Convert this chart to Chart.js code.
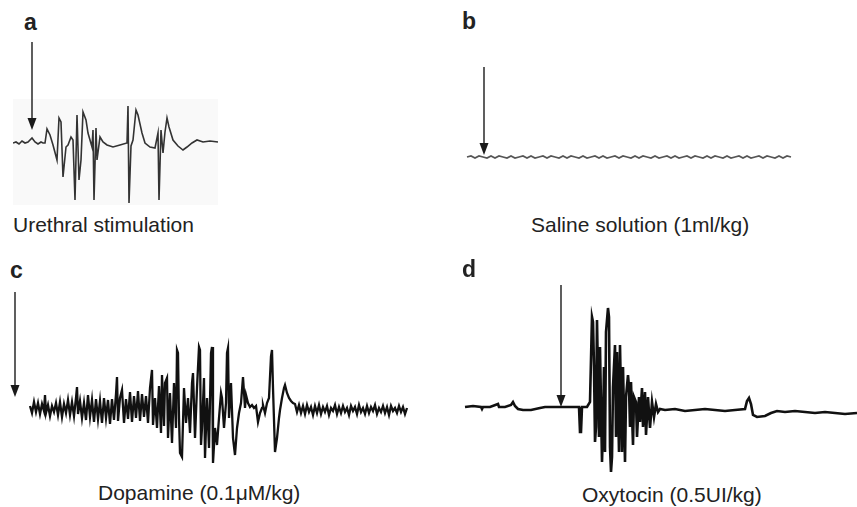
<!DOCTYPE html>
<html>
<head>
<meta charset="utf-8">
<script src="https://cdn.jsdelivr.net/npm/chart.js@4/dist/chart.umd.min.js"></script>
<style>
  html, body { margin:0; padding:0; background:#fff; }
  body { width:857px; height:507px; position:relative; overflow:hidden; font-family:"Liberation Sans", Arial, Helvetica, sans-serif; color:#222; }
  .lbl { position:absolute; font-weight:bold; font-size:23px; line-height:23px; white-space:nowrap; }
  .cap { position:absolute; font-size:21px; line-height:21px; white-space:nowrap; color:#222; }
  canvas { position:absolute; }
  #boxA { position:absolute; left:13px; top:99px; width:205px; height:106px; background:#f9f9f9; }
</style>
</head>
<body>
<div id="boxA"></div>
<canvas id="cA" width="206" height="166" style="left:13px;top:40px"></canvas>
<canvas id="cB" width="340" height="110" style="left:460px;top:60px"></canvas>
<canvas id="cC" width="400" height="185" style="left:10px;top:285px"></canvas>
<canvas id="cD" width="402" height="200" style="left:455px;top:280px"></canvas>

<div class="lbl" style="left:24px;top:11px">a</div>
<div class="lbl" style="left:462px;top:10px">b</div>
<div class="lbl" style="left:10px;top:259px">c</div>
<div class="lbl" style="left:462px;top:258px">d</div>

<div class="cap" style="left:13px;top:214px">Urethral stimulation</div>
<div class="cap" style="left:531px;top:214px">Saline solution (1ml/kg)</div>
<div class="cap" style="left:98px;top:482px">Dopamine (0.1μM/kg)</div>
<div class="cap" style="left:582px;top:484px">Oxytocin (0.5UI/kg)</div>

<script>
// ---- Panel a: urethral stimulation (time, amplitude) ----
const aTime   = [0,3,6,9,12,15,19,22,25,28,30,32,34,37,40,44,46,48,50,53,55,58,60,62,64,66,68,70,73,75,79,80,81,83,84,87,90,94,100,107,114,115,116,118,120,123,125,129,132,137,142,145,146,148,150,152,154,156,160,165,170,174,179,184,190,197,205];
const aSignal = [0,1,-1,2,0,1,5,1,-1,1,0,0,14,8,-2,-17,25,21,-34,-4,-2,6,3,-57,28,-37,-17,31,23,10,-4,13,-57,15,-17,6,1,-2,-4,-2,0,37,-60,-3,3,33,28,10,0,-4,-5,10,-57,13,-10,11,25,16,3,-3,-7,-4,0,3,1,2,1];
const aStim   = {t:19, from:101, to:13};

// ---- Panel b: saline solution ----
const bTime   = [0,4,8,12,16,20,24,28,32,36,40,44,48,52,56,60,64,68,72,76,80,84,88,92,96,100,104,108,112,116,120,124,128,132,136,140,144,148,152,156,160,164,168,172,176,180,184,188,192,196,200,204,208,212,216,220,224,228,232,236,240,244,248,252,256,260,264,268,272,276,280,284,288,292,296,300,304,308,312,316,320,324];
const bSignal = [0,1,-1,1,0,-1,1,-1,1,0, -1,1,-1,0,1,-1,1,-1,0,1, -1,1,0,-1,1,-1,1,0,-1,1, -1,0,1,-1,1,-1,0,1,-1,1, 0,-1,1,-1,1,0,-1,1,-1,0, 1,-1,1,-1,0,1,-1,1,0,-1, 1,-1,1,0,-1,1,-1,0,1,-1, 1,-1,0,1,-1,1,0,-1,1,-1, 1,0];
const bStim   = {t:17, from:90, to:2};

// ---- Panel c: dopamine ----
const cTime   = [0,2,4,6,8,10,12,14,15,16,18,20,22,24,26,28,30,32,34,36,38,40,42,44,46,47,48,50,52,54,56,58,60,62,64,66,68,70,72,74,76,78,80,82,84,86,87,88,90,92,94,96,98,100,102,104,106,108,110,112,114,116,118,
  120,122,123,125,127,129,131,132,134,135,137,138,140,142,144,146,147,148,149,150,152,154,156,158,160,162,163,165,167,169,170,171,172,174,175,177,179,181,182,183,185,187,189,191,192,194,196,197,198,199,201,203,205,207,209,211,213,215,216,218,220,222,224,226,228,230,232,233,235,237,239,241,242,243,245,247,249,250,252,254,255,257,259,261,263,
  265,267,269,271,273,275,277,279,281,283,285,287,289,291,293,295,297,299,301,303,305,307,309,311,313,315,317,319,321,323,325,327,329,331,333,335,337,339,341,343,345,347,349,351,353,355,357,359,361,363,365,367,369,371,373,375,377];
const cSignal = [2,-5,6,-4,5,-6,4,-3,13,-5,3,-8,2,-4,5,-7,6,-9,4,-5,8,-7,6,-8,10,21,-6,7,-10,5,-12,13,-9,8,-14,9,-11,7,-15,10,-10,8,-16,9,-12,14,31,-13,10,18,-15,9,-11,16,-14,12,-10,17,-13,14,-9,12,-15,
  20,38,-17,10,-20,22,-25,33,-18,25,30,-30,15,-35,25,-20,58,55,-10,-45,-49,20,-15,10,-25,25,35,-30,20,61,58,-37,-20,30,-50,10,-40,55,61,-55,-20,-37,-10,15,10,-20,5,55,60,-10,25,-30,-47,-20,-5,5,31,0,13,5,1,3,0,2,-14,-5,0,3,-5,5,10,52,58,20,-44,-30,-10,-2,10,20,23,15,10,7,5,
  4,-4,3,-5,2,-6,3,-4,1,-7,2,-5,3,-6,1,-4,2,-7,0,-3,3,-6,1,-5,2,-4,0,-7,2,-3,1,-6,3,-4,0,-6,2,-5,1,-3,3,-6,0,-4,2,-5,1,-7,2,-3,0,-5,2,-4,1,-6,0];
const cStim   = {t:-15, from:116, to:11};

// ---- Panel d: oxytocin ----
const dTime   = [0,8,16,17,18,25,33,34,40,46,48,50,53,58,66,75,80,90,100,108,113,114,115,116,117,122,125,
  127,128,129,130,131,132,134,135,137,138,139,140,141,143,144,145,146,147,148,150,151,152,154,155,157,158,160,161,163,164,165,166,168,169,171,172,174,175,177,178,180,181,183,185,187,189,191,193,195,
  200,210,220,230,240,250,260,270,280,282,284,286,288,292,300,306,312,320,330,340,350,360,370,380,392];
const dSignal = [0,1,0,-2,0,0,3,0,0,2,5,1,-2,-3,-3,-1,0,0,0,0,0,0,-25,-25,0,0,5,
  90,85,40,-35,-20,87,-30,60,-55,-20,40,-45,75,99,90,-40,-65,-50,20,62,-30,55,-45,62,-45,40,-55,10,32,20,-20,25,-38,10,5,-30,10,-15,19,-20,15,-28,10,-21,5,-10,3,-5,-2,
  -3,-2,-4,-3,-2,-3,-4,-3,-2,6,9,3,-8,-10,-9,-6,-4,-5,-4,-5,-6,-5,-6,-7,-6];
const dStim   = {t:96, from:122, to:0};

const stimArrow = {
  id: 'stimArrow',
  afterDatasetsDraw(chart, args, opts) {
    const {ctx, scales:{x, y}} = chart;
    const px = x.getPixelForValue(opts.t);
    const y0 = y.getPixelForValue(opts.from);
    const y1 = y.getPixelForValue(opts.to);
    ctx.save();
    ctx.strokeStyle = '#1a1a1a';
    ctx.fillStyle = '#1a1a1a';
    ctx.lineWidth = 1.4;
    ctx.beginPath(); ctx.moveTo(px, y0); ctx.lineTo(px, y1 - 10); ctx.stroke();
    ctx.beginPath(); ctx.moveTo(px - 4.5, y1 - 12); ctx.lineTo(px + 4.5, y1 - 12); ctx.lineTo(px, y1); ctx.closePath(); ctx.fill();
    ctx.restore();
  }
};

function trace(id, times, values, range, stim, color, width) {
  const canvas = document.getElementById(id);
  new Chart(canvas, {
    type: 'line',
    data: { datasets: [{ data: times.map((t, i) => ({x: t, y: values[i]})), borderColor: color, borderWidth: width, pointRadius: 0, tension: 0, fill: false, borderJoinStyle: 'miter' }] },
    options: {
      responsive: false, animation: false, events: [],
      layout: { padding: 0 },
      scales: {
        x: { type: 'linear', display: false, min: range[0], max: range[1] },
        y: { type: 'linear', display: false, min: range[2], max: range[3] }
      },
      plugins: { legend: {display: false}, tooltip: {enabled: false}, stimArrow: stim }
    },
    plugins: [stimArrow]
  });
}

trace('cA', aTime, aSignal, [0, 206, -63, 103], aStim, '#333333', 1.6);
trace('cB', bTime, bSignal, [-7, 333, -13, 97], bStim, '#555555', 1.8);
trace('cC', cTime, cSignal, [-20, 380, -62, 123], cStim, '#111111', 2.3);
trace('cD', dTime, dSignal, [-10, 392, -73, 127], dStim, '#111111', 2.6);
</script>
</body>
</html>
